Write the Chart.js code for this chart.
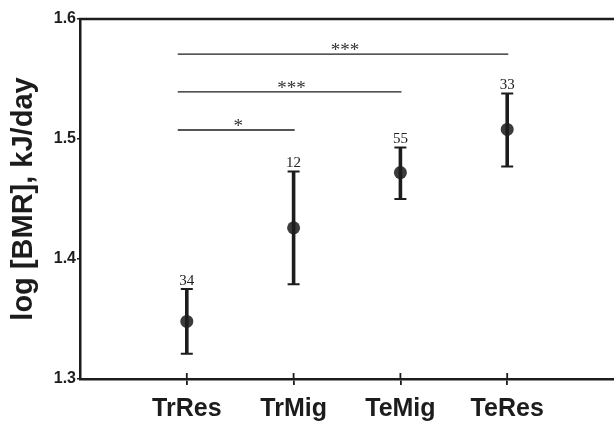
<!DOCTYPE html>
<html>
<head>
<meta charset="utf-8">
<script src="https://cdn.jsdelivr.net/npm/chart.js@4"></script>
<style>
html,body{margin:0;padding:0;background:#fff;}
#wrap{width:614px;height:424px;}
</style>
</head>
<body>
<div id="wrap"><canvas id="c" width="614" height="424"></canvas></div>
<script>
const categories = ['TrRes', 'TrMig', 'TeMig', 'TeRes'];
const means = [1.348, 1.426, 1.472, 1.508];
const upper = [1.375, 1.473, 1.493, 1.538];
const lower = [1.321, 1.379, 1.450, 1.477];
const sampleSizes = ['34', '12', '55', '33'];
const yTicks = [1.3, 1.4, 1.5, 1.6];
// significance brackets: from group A to group B, at height, with label
const sigFrom = [0, 0, 0];
const sigTo = [1, 2, 3];
const sigHeight = [1.5075, 1.5392, 1.5708];
const sigLabels = ['*', '***', '***'];

const INK = '#1c1c1c';

const overlay = {
  id: 'overlay',
  afterDatasetsDraw(chart) {
    const ctx = chart.ctx;
    const xs = chart.scales.x, ys = chart.scales.y;
    const area = chart.chartArea;
    ctx.save();
    // top frame line
    ctx.strokeStyle = INK;
    ctx.lineWidth = 2.5;
    ctx.beginPath();
    ctx.moveTo(area.left - 1, ys.getPixelForValue(1.6));
    ctx.lineTo(chart.width, ys.getPixelForValue(1.6));
    ctx.stroke();
    // x tick marks inside part
    ctx.lineWidth = 1.8;
    categories.forEach((c, i) => {
      const x = xs.getPixelForValue(i + 1);
      const y = area.bottom;
      ctx.beginPath();
      ctx.moveTo(x, y - 6);
      ctx.lineTo(x, y);
      ctx.stroke();
    });
    // error bars
    means.forEach((m, i) => {
      const x = xs.getPixelForValue(i + 1);
      const yu = ys.getPixelForValue(upper[i]);
      const yl = ys.getPixelForValue(lower[i]);
      ctx.strokeStyle = INK;
      ctx.lineWidth = 3.6;
      ctx.beginPath();
      ctx.moveTo(x, yu);
      ctx.lineTo(x, yl);
      ctx.stroke();
      ctx.lineWidth = 2;
      ctx.beginPath();
      ctx.moveTo(x - 6, yu); ctx.lineTo(x + 6, yu);
      ctx.moveTo(x - 6, yl); ctx.lineTo(x + 6, yl);
      ctx.stroke();
      // sample size
      ctx.fillStyle = '#222';
      ctx.font = '15px "Liberation Serif", "Times New Roman", serif';
      ctx.textAlign = 'center';
      ctx.textBaseline = 'alphabetic';
      ctx.fillText(sampleSizes[i], x, yu - 4);
    });
    // significance brackets
    sigFrom.forEach((a, k) => {
      const x1 = xs.getPixelForValue(a + 1 - 0.085);
      const x2 = xs.getPixelForValue(sigTo[k] + 1 + 0.01);
      const y = ys.getPixelForValue(sigHeight[k]);
      ctx.strokeStyle = INK;
      ctx.lineWidth = 1.3;
      ctx.beginPath();
      ctx.moveTo(x1, y); ctx.lineTo(x2, y);
      ctx.stroke();
      ctx.fillStyle = '#333';
      ctx.font = '19px "Liberation Serif", "Times New Roman", serif';
      ctx.textAlign = 'center';
      ctx.textBaseline = 'alphabetic';
      ctx.fillText(sigLabels[k], (x1 + x2) / 2 + 2, y + 2);
    });
    ctx.restore();
  }
};

new Chart(document.getElementById('c'), {
  type: 'scatter',
  data: {
    datasets: [{
      data: means.map((m, i) => ({ x: i + 1, y: m })),
      pointRadius: 6.5,
      pointHoverRadius: 6.5,
      pointBackgroundColor: '#3b3b3b',
      pointBorderWidth: 0,
      showLine: false
    }]
  },
  options: {
    responsive: false,
    animation: false,
    events: [],
    devicePixelRatio: 1,
    layout: { autoPadding: false, padding: { top: 19, right: 0, left: 0, bottom: 0 } },
    plugins: { legend: { display: false }, tooltip: { enabled: false } },
    scales: {
      x: {
        type: 'linear',
        min: 0, max: 5,
        afterBuildTicks(scale) { scale.ticks = categories.map((c, i) => ({ value: i + 1 })); },
        afterFit(scale) { scale.height = 45; scale.paddingLeft = 0; scale.paddingRight = 0; },
        ticks: {
          callback: (v) => categories[v - 1] || '',
          color: INK,
          font: { family: '"Liberation Sans", Arial, sans-serif', size: 25, weight: 'bold' },
          padding: 9,
          maxRotation: 0,
          autoSkip: false
        },
        grid: { display: true, drawOnChartArea: false, drawTicks: true, tickLength: 6, color: INK, lineWidth: 1.8 },
        border: { display: true, color: INK, width: 2.5 }
      },
      y: {
        type: 'linear',
        min: 1.3, max: 1.6,
        afterBuildTicks(scale) { scale.ticks = yTicks.map(v => ({ value: v })); },
        afterFit(scale) { scale.width = 80; scale.paddingTop = 0; scale.paddingBottom = 0; },
        ticks: {
          callback: (v) => v.toFixed(1),
          color: INK,
          font: { family: '"Liberation Sans", Arial, sans-serif', size: 16, weight: 'bold' },
          padding: 1
        },
        grid: { display: true, drawOnChartArea: false, drawTicks: true, tickLength: 3, color: INK, lineWidth: 1.5 },
        border: { display: true, color: INK, width: 2.5 },
        title: {
          display: true,
          text: 'log [BMR], kJ/day',
          color: INK,
          font: { family: '"Liberation Sans", Arial, sans-serif', size: 29, weight: 'bold' },
          padding: { top: 7, bottom: 0 }
        }
      }
    }
  },
  plugins: [overlay]
});
</script>
</body>
</html>
